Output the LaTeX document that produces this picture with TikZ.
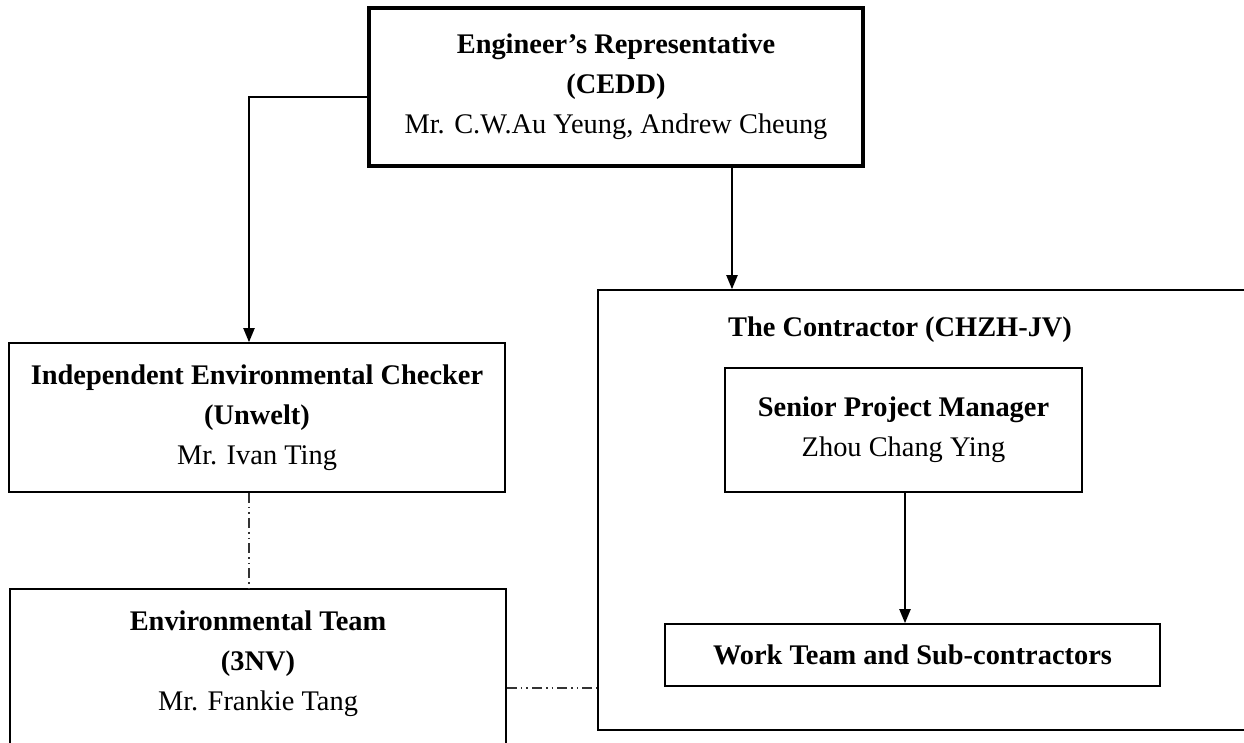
\documentclass[tikz,border=0pt]{standalone}
\usepackage{fontspec}
\setmainfont{Liberation Serif}
\usetikzlibrary{arrows.meta}

\tikzset{
  box/.style={draw, line width=0.8pt, inner sep=0pt},
  txt/.style={align=center, font=\fontsize{14.2}{20}\selectfont},
  arr/.style={line width=1pt, -{Triangle[width=5.5pt,length=7pt]}},
  dashdot/.style={line width=0.7pt, black!80,
    dash pattern=on 5pt off 2pt on 0.8pt off 2pt on 0.8pt off 2pt}
}

\begin{document}
\begin{tikzpicture}[x=0.5pt, y=-0.5pt]
\useasboundingbox (0,0) rectangle (1244,743);
\clip (0,0) rectangle (1244,743);

% Engineer's Representative
\node[box, line width=1.8pt, minimum width=247pt, minimum height=79pt, txt] (er) at (616,87)
  {\textbf{Engineer’s Representative}\\ \textbf{(CEDD)}\\ Mr. C.W.Au Yeung, Andrew Cheung};

% IEC
\node[box, minimum width=248pt, minimum height=74.5pt, txt] (iec) at (257,417.5)
  {\textbf{Independent Environmental Checker}\\ \textbf{(Unwelt)}\\ Mr. Ivan Ting};

% Environmental Team (bottom runs off the page)
\node[box, minimum width=248pt, minimum height=85pt] (et) at (258,674) {};
\node[txt] (ettext) at (258,664)
  {\textbf{Environmental Team}\\ \textbf{(3NV)}\\ Mr. Frankie Tang};

% Contractor (right side runs off the page)
\node[box, minimum width=331pt, minimum height=220pt] (con) at (929,510) {};
\node[txt] (contitle) at (900,330) {\textbf{The Contractor (CHZH-JV)}};

\node[box, minimum width=178.5pt, minimum height=62pt, txt] (spm) at (903.5,430)
  {\textbf{Senior Project Manager}\\ Zhou Chang Ying};
\node[box, minimum width=247.5pt, minimum height=31pt, txt] (wt) at (912.5,655)
  {\textbf{Work Team and Sub-contractors}};

% connectors
\draw[arr] ([yshift=-5pt]er.west) -| ([xshift=-4pt]iec.north);
\draw[arr] ([xshift=58pt]er.south) -- ([xshift=58pt]er.south |- con.north);
\draw[arr] ([xshift=0.75pt]spm.south) -- ([xshift=0.75pt]spm.south |- wt.north);
\draw[dashdot] ([xshift=-4pt]iec.south) -- ([xshift=-4pt]iec.south |- et.north);
\draw[dashdot] ([yshift=-7pt]et.east) -- ([yshift=-7pt]et.east -| con.west);
\end{tikzpicture}
\end{document}
